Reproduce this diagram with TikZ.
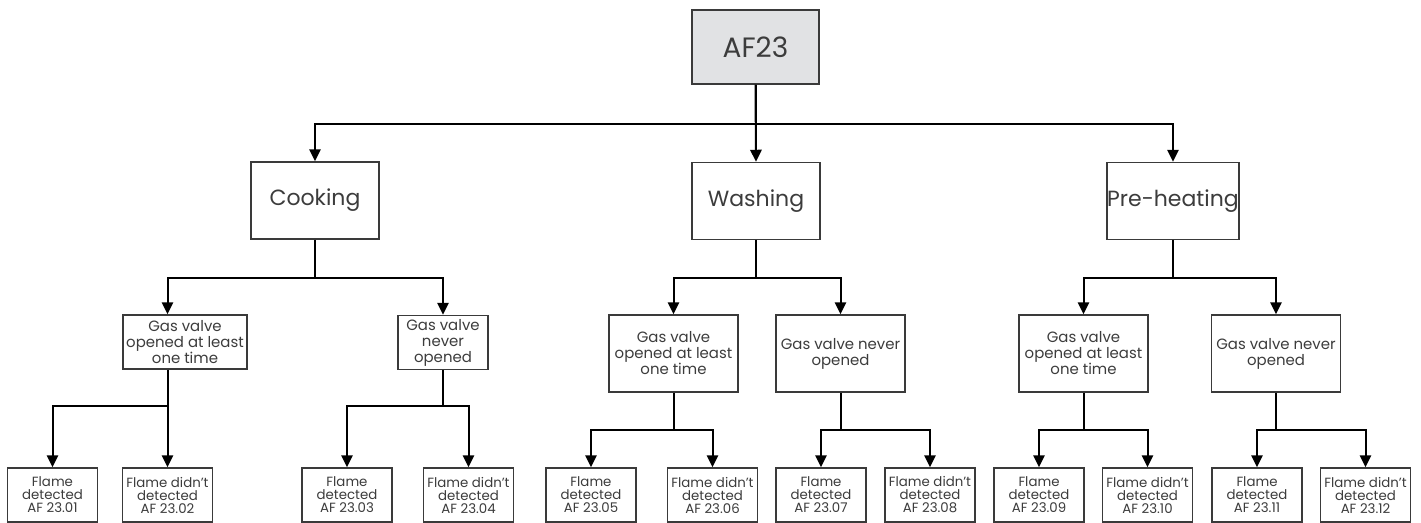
\documentclass[tikz,border=0pt]{standalone}
\usepackage{fontspec}
\setmainfont{Poppins}
\usetikzlibrary{arrows.meta}
\definecolor{boxline}{HTML}{3A3A3A}
\definecolor{txt}{HTML}{3C3C3C}
\definecolor{topfill}{HTML}{E1E2E4}
\begin{document}
\begin{tikzpicture}[x=0.75pt,y=-0.75pt,
  box/.style={draw=boxline,line width=1.1pt,fill=white,inner sep=0pt,align=center,text=txt},
  topbox/.style={box,fill=topfill,minimum width=95.25pt,minimum height=55.5pt,font=\fontsize{21}{24}\selectfont},
  midbox/.style={box,minimum width=96pt,minimum height=57.75pt,font=\fontsize{16.5}{20}\selectfont},
  gvbox/.style={box,minimum height=57.75pt,font=\fontsize{11.2}{12}\selectfont},
  gvsmall/.style={box,minimum height=40.5pt,font=\fontsize{11.2}{12}\selectfont},
  leaf/.style={box,minimum width=67.5pt,minimum height=40.5pt,font=\fontsize{10}{9.75}\selectfont},
  arr/.style={line width=1.5pt,-{Triangle[length=9pt,width=8.5pt]}},
  ln/.style={line width=1.5pt}]
\useasboundingbox (0,0) rectangle (1421,523);
% levels
\coordinate (L1) at (0,124);
\coordinate (L2) at (0,278);
\coordinate (L3c) at (0,406);
\coordinate (L3) at (0,430);
% nodes
\node[topbox] (A) at (755.5,47) {AF23};
\node[midbox] (Co) at (315,200.5) {Cooking};
\node[midbox] (Wa) at (756,201) {Washing};
\node[midbox] (Pr) at (1173,201) {Pre-heating};
\node[gvsmall,minimum width=93pt] (C1) at (185,342) {Gas valve\\opened at least\\one time};
\node[gvsmall,minimum width=67.5pt] (C2) at (443,342.5) {Gas valve\\never\\opened};
\node[gvbox,minimum width=96.75pt] (W1) at (673.5,353.5) {Gas valve\\opened at least\\one time};
\node[gvbox,minimum width=96.75pt] (W2) at (840.5,353.5) {Gas valve never\\opened};
\node[gvbox,minimum width=96.75pt] (P1) at (1083.5,353.5) {Gas valve\\opened at least\\one time};
\node[gvbox,minimum width=96.75pt] (P2) at (1276,353.5) {Gas valve never\\opened};
\node[leaf] (B1) at (52.5,495) {Flame\\detected\\AF 23.01};
\node[leaf] (B2) at (167.5,495) {Flame didn't\\detected\\AF 23.02};
\node[leaf] (B3) at (347,495) {Flame\\detected\\AF 23.03};
\node[leaf] (B4) at (468.5,495) {Flame didn't\\detected\\AF 23.04};
\node[leaf] (B5) at (591,495) {Flame\\detected\\AF 23.05};
\node[leaf] (B6) at (712.5,495) {Flame didn't\\detected\\AF 23.06};
\node[leaf] (B7) at (821,495) {Flame\\detected\\AF 23.07};
\node[leaf] (B8) at (930,495) {Flame didn't\\detected\\AF 23.08};
\node[leaf] (B9) at (1039,495) {Flame\\detected\\AF 23.09};
\node[leaf] (B10) at (1147.5,495) {Flame didn't\\detected\\AF 23.10};
\node[leaf] (B11) at (1257,495) {Flame\\detected\\AF 23.11};
\node[leaf] (B12) at (1365.5,495) {Flame didn't\\detected\\AF 23.12};
% level 1
\draw[arr] (A.south) -- (A.south |- L1) -| (Co.north);
\draw[arr] (A.south) -- (Wa.north);
\draw[arr] (A.south |- L1) -| (Pr.north);
% cooking
\draw[arr] (Co.south) -- (Co.south |- L2) -| (C2.north);
\draw[arr] (Co.south |- L2) -| (C1.north -| B2.north);
\draw[arr] (B2.north |- C1.south) -- (B2.north |- L3c) -| (B1.north);
\draw[arr] (B2.north |- L3c) -- (B2.north);
\draw[arr] (C2.south) -- (C2.south |- L3c) -| (B3.north);
\draw[arr] (C2.south |- L3c) -| (B4.north);
% washing
\draw[arr] (Wa.south) -- (Wa.south |- L2) -| (W1.north);
\draw[arr] (Wa.south |- L2) -| (W2.north);
\draw[arr] (W1.south) -- (W1.south |- L3) -| (B5.north);
\draw[arr] (W1.south |- L3) -| (B6.north);
\draw[arr] (W2.south) -- (W2.south |- L3) -| (B7.north);
\draw[arr] (W2.south |- L3) -| (B8.north);
% pre-heating
\draw[arr] (Pr.south) -- (Pr.south |- L2) -| (P1.north);
\draw[arr] (Pr.south |- L2) -| (P2.north);
\draw[arr] (P1.south) -- (P1.south |- L3) -| (B9.north);
\draw[arr] (P1.south |- L3) -| (B10.north);
\draw[arr] (P2.south) -- (P2.south |- L3) -| (B11.north);
\draw[arr] (P2.south |- L3) -| (B12.north);
\end{tikzpicture}
\end{document}
